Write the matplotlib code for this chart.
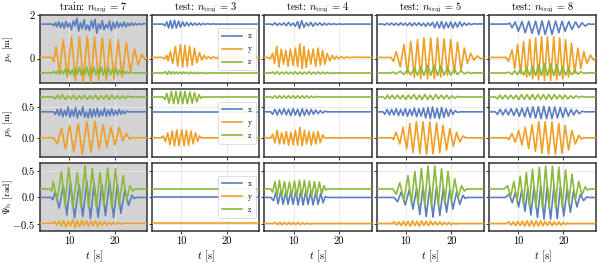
import numpy as np
import matplotlib.pyplot as plt

plt.rcParams['font.family'] = ['cmr10']
plt.rcParams['mathtext.fontset'] = 'cm'
plt.rcParams['axes.formatter.use_mathtext'] = True
plt.rcParams['axes.unicode_minus'] = True

# columns
SPLITS = ["train", "test", "test", "test", "test"]
N_TRAJ = [7, 3, 4, 5, 8]

# (t [s], value) key points, per panel and per axis
# ---- n_traj = 7 (train)
PE_X_7 = [(3.6, 1.60), (6.3, 1.60), (6.6, 1.52), (7.0, 1.66), (7.3, 1.48), (7.7, 1.70), (8.1, 1.44), (8.5, 1.66),
          (8.9, 1.40), (9.3, 1.72), (9.7, 1.46), (10.1, 1.64), (10.5, 1.34), (10.9, 1.74), (11.3, 1.52), (11.7, 1.86),
          (12.1, 1.28), (12.5, 1.66), (12.9, 1.38), (13.3, 1.80), (13.7, 1.34), (14.1, 1.56), (14.5, 1.30), (14.9, 1.76),
          (15.3, 1.42), (15.7, 1.82), (16.1, 1.18), (16.5, 1.62), (16.9, 1.38), (17.3, 1.76), (17.7, 1.34), (18.1, 1.58),
          (18.5, 1.42), (18.9, 1.74), (19.3, 1.30), (19.7, 1.68), (20.1, 1.40), (20.5, 1.72), (20.9, 1.44), (21.3, 1.64),
          (21.7, 1.48), (22.1, 1.70), (22.5, 1.46), (22.9, 1.64), (23.3, 1.52), (23.7, 1.66), (24.1, 1.54), (24.5, 1.64),
          (24.9, 1.56), (25.4, 1.62), (25.9, 1.58), (26.4, 1.62), (27.2, 1.61)]
PE_Y_7 = [(3.6, 0.06), (6.0, 0.06), (6.3, 0.0), (6.6, -0.15), (7.1, 0.57), (7.9, -0.6), (8.7, 0.88), (9.6, -0.85),
          (10.5, 1.0), (11.4, -1.0), (12.3, 1.0), (13.1, -1.08), (14.0, 1.04), (14.8, -1.08), (15.6, 1.0), (16.5, -1.0),
          (17.3, 0.96), (18.2, -1.0), (19.0, 0.9), (19.9, -0.93), (20.8, 0.88), (21.7, -0.85), (22.6, 0.76), (23.5, -0.6),
          (24.4, 0.45), (25.2, -0.3), (26.0, 0.2), (26.7, -0.05), (27.2, 0.05)]
PE_Z_7 = [(3.6, -0.65), (6.3, -0.65), (6.7, -0.58), (7.1, -0.7), (7.5, -0.56), (7.9, -0.72), (8.3, -0.55), (8.7, -0.7),
          (9.1, -0.5), (9.5, -0.74), (9.9, -0.48), (10.3, -0.72), (10.7, -0.5), (11.1, -0.78), (11.5, -0.45), (11.9, -0.7),
          (12.3, -0.4), (12.7, -0.76), (13.1, -0.5), (13.5, -0.72), (13.9, -0.38), (14.3, -0.78), (14.7, -0.46), (15.1, -0.7),
          (15.5, -0.4), (15.9, -0.75), (16.3, -0.5), (16.7, -0.72), (17.1, -0.38), (17.5, -0.76), (17.9, -0.48), (18.3, -0.72),
          (18.7, -0.42), (19.1, -0.74), (19.5, -0.5), (19.9, -0.7), (20.3, -0.45), (20.7, -0.74), (21.1, -0.52), (21.5, -0.7),
          (21.9, -0.55), (22.3, -0.7), (22.7, -0.58), (23.1, -0.68), (23.5, -0.6), (24.0, -0.66), (27.2, -0.65)]
PB_X_7 = [(3.6, 0.42), (6.6, 0.42), (7.0, 0.38), (7.4, 0.46), (7.8, 0.36), (8.2, 0.47), (8.6, 0.34), (9.0, 0.44),
          (9.4, 0.36), (9.8, 0.5), (10.2, 0.33), (10.6, 0.45), (11.0, 0.35), (11.4, 0.49), (11.8, 0.32), (12.2, 0.44),
          (12.6, 0.36), (13.0, 0.5), (13.4, 0.33), (13.8, 0.42), (14.2, 0.32), (14.6, 0.47), (15.0, 0.33), (15.4, 0.46),
          (15.8, 0.35), (16.2, 0.48), (16.6, 0.34), (17.0, 0.44), (17.4, 0.36), (17.8, 0.48), (18.2, 0.35), (18.6, 0.45),
          (19.0, 0.36), (19.4, 0.47), (19.8, 0.36), (20.2, 0.44), (20.6, 0.37), (21.0, 0.46), (21.4, 0.38), (21.8, 0.44),
          (22.2, 0.39), (22.6, 0.43), (23.0, 0.42), (27.2, 0.42)]
PB_Y_7 = [(3.6, 0.0), (6.6, 0.0), (7.4, -0.1), (8.3, 0.15), (9.2, -0.18), (10.1, 0.2), (11.0, -0.23), (12.0, 0.23),
          (12.9, -0.27), (13.9, 0.26), (14.8, -0.23), (15.7, 0.26), (16.6, -0.18), (17.5, 0.21), (18.3, -0.15), (19.2, 0.17),
          (20.1, -0.12), (21.0, 0.17), (21.8, -0.05), (22.6, 0.07), (23.3, -0.02), (24.0, 0.0), (27.2, 0.0)]
PB_Z_7 = [(3.6, 0.66), (6.5, 0.66), (7.0, 0.63), (7.5, 0.69), (8.0, 0.63), (8.6, 0.69), (9.2, 0.62), (9.8, 0.68),
          (10.4, 0.63), (11.0, 0.69), (11.6, 0.62), (12.2, 0.68), (12.8, 0.63), (13.4, 0.69), (14.0, 0.62), (14.6, 0.68),
          (15.2, 0.63), (15.8, 0.69), (16.4, 0.62), (17.0, 0.68), (17.6, 0.63), (18.2, 0.69), (18.8, 0.62), (19.4, 0.69),
          (20.0, 0.63), (20.6, 0.68), (21.2, 0.63), (21.8, 0.68), (22.4, 0.64), (23.0, 0.67), (23.6, 0.66), (27.2, 0.66)]
PSI_X_7 = [(3.6, 0.0), (6.0, 0.0), (6.4, -0.04), (6.9, 0.1), (7.8, -0.2), (8.7, 0.22), (9.5, -0.33), (10.3, 0.28),
           (11.2, -0.38), (12.2, 0.24), (13.0, -0.36), (13.9, 0.3), (14.7, -0.4), (15.5, 0.27), (16.4, -0.38), (17.2, 0.24),
           (18.0, -0.34), (18.9, 0.3), (19.8, -0.38), (20.6, 0.25), (21.4, -0.3), (22.3, 0.15), (23.1, -0.15), (23.8, 0.04),
           (24.3, -0.02), (24.8, 0.0), (27.2, 0.0)]
PSI_Y_7 = [(3.6, -0.49), (6.3, -0.49), (6.8, -0.46), (7.3, -0.52), (7.8, -0.45), (8.3, -0.53), (8.8, -0.44), (9.3, -0.55),
           (9.8, -0.45), (10.3, -0.54), (10.8, -0.42), (11.3, -0.56), (11.8, -0.44), (12.3, -0.55), (12.8, -0.43), (13.3, -0.53),
           (13.8, -0.44), (14.3, -0.54), (14.8, -0.45), (15.3, -0.53), (15.8, -0.44), (16.3, -0.54), (16.8, -0.46), (17.3, -0.52),
           (17.8, -0.46), (18.3, -0.52), (18.8, -0.47), (19.3, -0.51), (19.8, -0.47), (20.3, -0.51), (20.8, -0.48), (21.3, -0.5),
           (22.0, -0.49), (27.2, -0.49)]
PSI_Z_7 = [(3.6, 0.16), (5.8, 0.16), (6.2, 0.12), (6.5, 0.3), (7.4, -0.05), (8.3, 0.49), (9.1, -0.15), (9.9, 0.57),
           (10.8, -0.2), (11.8, 0.47), (12.6, -0.18), (13.5, 0.59), (14.3, -0.2), (15.1, 0.54), (16.0, -0.18), (16.8, 0.47),
           (17.6, -0.15), (18.5, 0.55), (19.4, -0.2), (20.2, 0.54), (21.0, -0.15), (21.9, 0.41), (22.7, -0.05), (23.4, 0.22),
           (24.0, 0.12), (24.5, 0.16), (27.2, 0.16)]

# ---- n_traj = 3
PE_X_3 = [(3.6, 1.6), (6.0, 1.6), (6.4, 1.52), (6.8, 1.7), (7.2, 1.42), (7.6, 1.76), (8.0, 1.4), (8.5, 1.78), (8.9, 1.42),
          (9.4, 1.74), (9.8, 1.46), (10.3, 1.7), (10.7, 1.5), (11.2, 1.68), (11.6, 1.52), (12.1, 1.66), (12.5, 1.54),
          (13.0, 1.65), (13.4, 1.55), (13.9, 1.64), (14.3, 1.56), (14.8, 1.63), (15.2, 1.58), (15.8, 1.62), (16.4, 1.59),
          (17.0, 1.61), (17.6, 1.6), (27.2, 1.6)]
PE_Y_3 = [(3.6, 0.06), (5.8, 0.06), (6.3, 0.0), (6.8, 0.15), (7.1, -0.1), (7.6, 0.33), (8.1, -0.22), (8.7, 0.57),
          (9.2, -0.35), (9.8, 0.65), (10.3, -0.38), (10.8, 0.61), (11.3, -0.35), (11.8, 0.57), (12.4, -0.3), (12.9, 0.49),
          (13.4, -0.19), (14.0, 0.28), (14.5, -0.06), (15.0, 0.15), (15.5, 0.0), (16.0, 0.1), (16.6, 0.01), (17.1, 0.09),
          (17.7, 0.02), (18.3, 0.08), (18.9, 0.03), (19.5, 0.07), (20.2, 0.06), (27.2, 0.06)]
PE_Z_3 = [(3.6, -0.66), (6.1, -0.66), (6.5, -0.6), (6.9, -0.72), (7.3, -0.58), (7.7, -0.71), (8.1, -0.6), (8.5, -0.7),
          (8.9, -0.61), (9.3, -0.7), (9.7, -0.62), (10.1, -0.7), (10.5, -0.61), (10.9, -0.69), (11.3, -0.62), (11.7, -0.7),
          (12.1, -0.62), (12.5, -0.69), (12.9, -0.63), (13.3, -0.69), (13.7, -0.63), (14.1, -0.68), (14.5, -0.63),
          (14.9, -0.68), (15.3, -0.64), (15.7, -0.68), (16.1, -0.64), (16.5, -0.67), (17.0, -0.64), (17.5, -0.67),
          (18.0, -0.65), (18.5, -0.67), (19.0, -0.65), (19.5, -0.67), (20.0, -0.65), (21.0, -0.66), (27.2, -0.66)]
PB_X_3 = [(3.6, 0.41), (27.2, 0.41)]
PB_Y_3 = [(3.6, 0.0), (5.6, 0.0), (6.0, 0.03), (6.5, -0.06), (7.0, 0.08), (7.5, -0.11), (8.0, 0.11), (8.5, -0.13),
          (9.0, 0.13), (9.5, -0.13), (10.1, 0.13), (10.6, -0.13), (11.1, 0.12), (11.6, -0.12), (12.1, 0.11), (12.6, -0.1),
          (13.1, 0.08), (13.6, -0.06), (14.0, 0.03), (14.4, 0.0), (27.2, 0.0)]
PB_Z_3 = [(3.6, 0.66), (6.0, 0.66), (6.4, 0.62), (6.8, 0.72), (7.3, 0.56), (7.8, 0.75), (8.3, 0.55), (8.8, 0.75),
          (9.3, 0.55), (9.8, 0.75), (10.3, 0.55), (10.8, 0.75), (11.3, 0.55), (11.9, 0.74), (12.4, 0.56), (12.9, 0.73),
          (13.4, 0.58), (13.9, 0.7), (14.3, 0.64), (14.7, 0.66), (27.2, 0.66)]
PSI_X_3 = [(3.6, 0.0), (27.2, 0.0)]
PSI_Y_3 = [(3.6, -0.49), (27.2, -0.49)]
PSI_Z_3 = [(3.6, 0.16), (27.2, 0.16)]

# ---- n_traj = 4
PE_X_4 = [(3.6, 1.6), (5.0, 1.6), (5.4, 1.56), (5.9, 1.66), (6.4, 1.54), (6.9, 1.64), (7.4, 1.55), (7.9, 1.66),
          (8.4, 1.52), (8.9, 1.68), (9.4, 1.53), (9.9, 1.65), (10.4, 1.5), (10.9, 1.72), (11.3, 1.4), (11.8, 1.76),
          (12.3, 1.45), (12.8, 1.66), (13.3, 1.52), (13.8, 1.68), (14.3, 1.5), (14.8, 1.65), (15.3, 1.55), (15.8, 1.66),
          (16.3, 1.54), (16.8, 1.64), (17.3, 1.56), (17.8, 1.63), (18.3, 1.57), (18.8, 1.62), (19.4, 1.58), (20.0, 1.61),
          (20.7, 1.59), (21.4, 1.6), (27.2, 1.6)]
PE_Y_4 = [(3.6, 0.06), (4.5, 0.06), (4.9, 0.0), (5.4, 0.25), (5.8, -0.22), (6.3, 0.57), (6.8, -0.38), (7.3, 0.44),
          (7.8, -0.25), (8.3, 0.38), (8.8, -0.35), (9.3, 0.44), (9.9, -0.3), (10.4, 0.49), (10.9, -0.36), (11.4, 0.69),
          (11.9, -0.46), (12.3, 0.57), (12.8, -0.4), (13.3, 0.41), (13.8, -0.25), (14.3, 0.44), (14.9, -0.35), (15.4, 0.49),
          (15.9, -0.3), (16.4, 0.38), (16.9, -0.25), (17.4, 0.25), (18.0, -0.1), (18.5, 0.15), (19.0, -0.02), (19.5, 0.12),
          (20.0, 0.0), (20.5, 0.1), (21.1, 0.03), (21.7, 0.08), (22.3, 0.05), (23.0, 0.07), (27.2, 0.06)]
PE_Z_4 = [(3.6, -0.66), (5.0, -0.66), (5.4, -0.61), (5.9, -0.7), (6.4, -0.6), (6.9, -0.71), (7.4, -0.62), (7.9, -0.7),
          (8.4, -0.61), (8.9, -0.7), (9.4, -0.62), (9.9, -0.7), (10.4, -0.6), (10.9, -0.71), (11.4, -0.61), (11.9, -0.7),
          (12.4, -0.62), (12.9, -0.7), (13.4, -0.6), (13.9, -0.71), (14.4, -0.62), (14.9, -0.7), (15.4, -0.61), (15.9, -0.7),
          (16.4, -0.62), (16.9, -0.69), (17.4, -0.63), (17.9, -0.69), (18.4, -0.64), (18.9, -0.68), (19.4, -0.64),
          (19.9, -0.67), (20.5, -0.65), (21.2, -0.66), (27.2, -0.66)]
PB_X_4 = [(3.6, 0.42), (5.0, 0.42), (5.4, 0.38), (5.9, 0.46), (6.4, 0.37), (6.9, 0.46), (7.4, 0.38), (7.9, 0.47),
          (8.4, 0.37), (8.9, 0.46), (9.4, 0.36), (9.9, 0.47), (10.4, 0.37), (10.9, 0.46), (11.4, 0.35), (11.9, 0.47),
          (12.4, 0.36), (12.9, 0.46), (13.4, 0.37), (13.9, 0.46), (14.4, 0.38), (14.9, 0.45), (15.4, 0.39), (15.9, 0.44),
          (16.4, 0.4), (16.9, 0.43), (17.4, 0.42), (27.2, 0.42)]
PB_Y_4 = [(3.6, 0.0), (5.0, 0.0), (5.4, 0.06), (5.9, -0.08), (6.4, 0.12), (6.9, -0.1), (7.4, 0.08), (7.9, -0.1),
          (8.4, 0.1), (8.9, -0.12), (9.4, 0.09), (9.9, -0.11), (10.4, 0.12), (10.9, -0.12), (11.4, 0.17), (11.9, -0.13),
          (12.4, 0.12), (12.9, -0.1), (13.4, 0.1), (13.9, -0.12), (14.4, 0.09), (14.9, -0.1), (15.4, 0.1), (15.9, -0.08),
          (16.4, 0.05), (16.8, 0.0), (27.2, 0.0)]
PB_Z_4 = [(3.6, 0.66), (5.0, 0.66), (5.4, 0.64), (5.9, 0.68), (6.4, 0.64), (6.9, 0.68), (7.4, 0.64), (7.9, 0.68),
          (8.4, 0.64), (8.9, 0.68), (9.4, 0.64), (9.9, 0.68), (10.4, 0.64), (10.9, 0.68), (11.4, 0.64), (11.9, 0.68),
          (12.4, 0.64), (12.9, 0.68), (13.4, 0.645), (13.9, 0.675), (14.4, 0.65), (15.0, 0.67), (15.6, 0.66), (27.2, 0.66)]
PSI_X_4 = [(3.6, 0.0), (5.0, 0.0), (5.6, -0.06), (6.1, 0.1), (6.6, -0.12), (7.2, 0.12), (7.7, -0.13), (8.3, 0.1),
           (8.8, -0.13), (9.4, 0.11), (9.9, -0.13), (10.5, 0.12), (11.0, -0.14), (11.6, 0.12), (12.1, -0.14), (12.7, 0.12),
           (13.2, -0.13), (13.8, 0.11), (14.3, -0.14), (14.9, 0.1), (15.4, -0.13), (16.0, 0.08), (16.5, -0.1), (17.0, 0.02),
           (17.4, 0.0), (27.2, 0.0)]
PSI_Y_4 = [(3.6, -0.49), (5.5, -0.49), (6.0, -0.47), (6.5, -0.51), (7.0, -0.47), (7.5, -0.51), (8.0, -0.47), (8.5, -0.51),
           (9.0, -0.47), (9.5, -0.51), (10.0, -0.47), (10.5, -0.51), (11.0, -0.47), (11.5, -0.51), (12.0, -0.475),
           (12.5, -0.505), (13.0, -0.48), (13.5, -0.5), (14.0, -0.49), (27.2, -0.49)]
PSI_Z_4 = [(3.6, 0.16), (5.0, 0.16), (5.4, 0.1), (5.9, 0.3), (6.4, 0.03), (6.9, 0.32), (7.4, 0.02), (8.0, 0.3),
           (8.5, 0.02), (9.1, 0.29), (9.6, 0.03), (10.2, 0.31), (10.7, 0.02), (11.3, 0.32), (11.8, 0.02), (12.4, 0.32),
           (12.9, 0.03), (13.5, 0.31), (14.0, 0.02), (14.6, 0.3), (15.1, 0.03), (15.7, 0.29), (16.2, 0.06), (16.7, 0.22),
           (17.1, 0.14), (17.5, 0.16), (27.2, 0.16)]

# ---- n_traj = 5
PE_X_5 = [(3.6, 1.6), (5.0, 1.6), (5.4, 1.56), (5.9, 1.64), (6.4, 1.56), (6.9, 1.65), (7.4, 1.55), (7.9, 1.64),
          (8.4, 1.54), (8.9, 1.66), (9.4, 1.55), (9.9, 1.64), (10.4, 1.53), (10.9, 1.66), (11.4, 1.52), (11.9, 1.65),
          (12.4, 1.54), (12.9, 1.66), (13.4, 1.52), (13.9, 1.64), (14.4, 1.5), (14.9, 1.66), (15.4, 1.52), (15.9, 1.68),
          (16.4, 1.44), (16.9, 1.7), (17.4, 1.42), (17.9, 1.72), (18.4, 1.4), (18.9, 1.68), (19.4, 1.44), (19.9, 1.7),
          (20.4, 1.42), (20.9, 1.68), (21.4, 1.46), (21.9, 1.7), (22.4, 1.5), (22.9, 1.66), (23.4, 1.54), (23.9, 1.64),
          (24.4, 1.57), (25.0, 1.62), (25.6, 1.6), (27.2, 1.61)]
PE_Y_5 = [(3.6, 0.06), (6.8, 0.06), (7.3, -0.12), (7.9, 0.33), (8.8, -0.38), (9.6, 0.65), (10.4, -0.69), (11.1, 0.8),
          (11.9, -0.85), (12.6, 0.88), (13.3, -0.93), (14.0, 0.96), (14.8, -0.93), (15.5, 0.96), (16.3, -0.93), (17.0, 0.96),
          (17.7, -0.85), (18.45, 0.91), (19.2, -0.77), (19.9, 0.88), (20.7, -0.69), (21.4, 0.76), (22.2, -0.54), (22.9, 0.49),
          (23.6, -0.22), (24.3, 0.25), (25.0, -0.06), (25.8, 0.13), (26.5, 0.0), (27.2, 0.04)]
PE_Z_5 = [(3.6, -0.66), (6.5, -0.66), (7.3, -0.62), (7.9, -0.7), (8.8, -0.58), (9.6, -0.72), (10.4, -0.52), (11.1, -0.74),
          (11.9, -0.45), (12.6, -0.76), (13.3, -0.36), (14.0, -0.77), (14.8, -0.3), (15.5, -0.77), (16.3, -0.3), (17.0, -0.77),
          (17.7, -0.34), (18.45, -0.76), (19.2, -0.4), (19.9, -0.75), (20.7, -0.48), (21.4, -0.73), (22.2, -0.56),
          (22.9, -0.7), (23.6, -0.62), (24.3, -0.68), (25.0, -0.65), (27.2, -0.66)]
PB_X_5 = [(3.6, 0.42), (5.0, 0.42), (5.4, 0.38), (5.9, 0.46), (6.4, 0.37), (6.9, 0.46), (7.4, 0.37), (7.9, 0.47),
          (8.4, 0.36), (8.9, 0.46), (9.4, 0.36), (9.9, 0.47), (10.4, 0.35), (10.9, 0.46), (11.4, 0.36), (11.9, 0.48),
          (12.4, 0.34), (12.9, 0.47), (13.4, 0.35), (13.9, 0.48), (14.4, 0.32), (14.9, 0.49), (15.4, 0.31), (15.9, 0.5),
          (16.4, 0.32), (16.9, 0.48), (17.4, 0.31), (17.9, 0.49), (18.4, 0.33), (18.9, 0.47), (19.4, 0.35), (19.9, 0.46),
          (20.4, 0.38), (20.9, 0.44), (21.4, 0.41), (22.0, 0.42), (27.2, 0.42)]
PB_Y_5 = [(3.6, 0.0), (7.0, 0.0), (7.3, -0.03), (7.9, 0.09), (8.7, -0.1), (9.4, 0.17), (10.2, -0.18), (10.9, 0.23),
          (11.6, -0.24), (12.35, 0.26), (13.1, -0.26), (13.8, 0.26), (14.6, -0.27), (15.3, 0.26), (16.0, -0.26),
          (16.8, 0.24), (17.5, -0.24), (18.2, 0.2), (19.0, -0.2), (19.7, 0.15), (20.5, -0.14), (21.2, 0.09), (21.9, -0.07),
          (22.6, 0.03), (23.2, 0.0), (27.2, 0.0)]
PB_Z_5 = [(3.6, 0.66), (5.0, 0.66), (5.5, 0.63), (6.0, 0.69), (6.5, 0.63), (7.0, 0.69), (7.6, 0.63), (8.2, 0.69),
          (8.8, 0.63), (9.4, 0.69), (10.0, 0.62), (10.6, 0.69), (11.2, 0.63), (11.8, 0.7), (12.4, 0.62), (13.0, 0.69),
          (13.6, 0.62), (14.2, 0.7), (14.8, 0.62), (15.4, 0.69), (16.0, 0.62), (16.6, 0.7), (17.2, 0.63), (17.8, 0.69),
          (18.4, 0.63), (19.0, 0.69), (19.6, 0.63), (20.2, 0.68), (20.8, 0.64), (21.4, 0.67), (22.0, 0.66), (27.2, 0.66)]
PSI_X_5 = [(3.6, 0.0), (7.4, 0.0), (8.2, -0.08), (9.0, 0.1), (9.9, -0.14), (10.8, 0.15), (11.6, -0.22), (12.4, 0.17),
           (13.1, -0.32), (13.8, 0.2), (14.5, -0.36), (15.3, 0.2), (16.0, -0.37), (16.8, 0.2), (17.5, -0.34), (18.3, 0.18),
           (19.0, -0.28), (19.7, 0.15), (20.4, -0.22), (21.2, 0.1), (21.9, -0.13), (22.6, 0.04), (23.1, -0.02), (23.5, 0.0),
           (27.2, 0.0)]
PSI_Y_5 = [(3.6, -0.49), (7.0, -0.49), (7.5, -0.46), (8.0, -0.52), (8.5, -0.46), (9.0, -0.53), (9.5, -0.45), (10.0, -0.53),
           (10.5, -0.45), (11.0, -0.54), (11.5, -0.44), (12.0, -0.53), (12.5, -0.45), (13.0, -0.54), (13.5, -0.44),
           (14.0, -0.53), (14.5, -0.45), (15.0, -0.53), (15.5, -0.45), (16.0, -0.52), (16.5, -0.46), (17.0, -0.52),
           (17.5, -0.46), (18.0, -0.52), (18.5, -0.47), (19.0, -0.51), (19.5, -0.47), (20.0, -0.51), (20.5, -0.48),
           (21.0, -0.5), (21.5, -0.49), (27.2, -0.49)]
PSI_Z_5 = [(3.6, 0.16), (7.2, 0.16), (7.9, 0.06), (8.7, 0.28), (9.6, -0.05), (10.5, 0.41), (11.25, -0.1), (12.0, 0.49),
           (12.7, -0.13), (13.45, 0.55), (14.2, -0.15), (14.9, 0.59), (15.65, -0.16), (16.4, 0.59), (17.15, -0.15),
           (17.9, 0.54), (18.6, -0.13), (19.3, 0.49), (20.05, -0.08), (20.8, 0.35), (21.55, 0.0), (22.3, 0.22), (22.9, 0.12),
           (23.4, 0.16), (27.2, 0.16)]

# ---- n_traj = 8
PE_X_8 = [(3.6, 1.6), (7.8, 1.6), (8.2, 1.65), (8.7, 1.43), (9.4, 1.7), (10.1, 1.27), (10.9, 1.72), (11.6, 1.2),
          (12.4, 1.73), (13.1, 1.17), (13.9, 1.74), (14.6, 1.12), (15.3, 1.75), (16.0, 1.12), (16.8, 1.75), (17.5, 1.12),
          (18.3, 1.74), (19.0, 1.2), (19.7, 1.73), (20.4, 1.27), (21.2, 1.72), (21.9, 1.35), (22.7, 1.7), (23.4, 1.43),
          (24.1, 1.66), (24.85, 1.5), (25.5, 1.62), (26.0, 1.59), (27.2, 1.6)]
PE_Y_8 = [(3.6, 0.06), (7.4, 0.06), (7.9, -0.12), (8.7, 0.41), (9.3, -0.46), (9.9, 0.65), (10.6, -0.69), (11.25, 0.8),
          (11.9, -0.85), (12.6, 0.88), (13.25, -0.93), (13.9, 0.96), (14.55, -0.98), (15.2, 1.01), (15.85, -1.0),
          (16.5, 1.01), (17.2, -1.0), (17.9, 1.01), (18.55, -0.98), (19.2, 0.96), (19.85, -0.93), (20.5, 0.88),
          (21.15, -0.85), (21.8, 0.72), (22.5, -0.69), (23.2, 0.49), (23.85, -0.46), (24.5, 0.33), (25.2, -0.22),
          (26.0, 0.17), (26.6, -0.06), (27.2, 0.05)]
PE_Z_8 = [(3.6, -0.66), (7.4, -0.66), (8.0, -0.62), (8.7, -0.72), (9.3, -0.56), (9.9, -0.73), (10.6, -0.5), (11.25, -0.75),
          (11.9, -0.42), (12.6, -0.77), (13.25, -0.35), (13.9, -0.78), (14.55, -0.26), (15.2, -0.78), (15.85, -0.22),
          (16.5, -0.78), (17.2, -0.24), (17.9, -0.78), (18.55, -0.28), (19.2, -0.77), (19.85, -0.35), (20.5, -0.76),
          (21.15, -0.45), (21.8, -0.74), (22.5, -0.55), (23.2, -0.71), (23.85, -0.6), (24.5, -0.68), (25.2, -0.65),
          (27.2, -0.66)]
PB_X_8 = [(3.6, 0.42), (5.0, 0.42), (5.5, 0.38), (6.1, 0.46), (6.7, 0.37), (7.3, 0.46), (7.9, 0.37), (8.5, 0.47),
          (9.1, 0.36), (9.7, 0.47), (10.3, 0.35), (10.9, 0.48), (11.5, 0.34), (12.1, 0.49), (12.7, 0.33), (13.3, 0.5),
          (13.9, 0.32), (14.5, 0.5), (15.1, 0.31), (15.7, 0.51), (16.3, 0.31), (16.9, 0.5), (17.5, 0.31), (18.1, 0.5),
          (18.7, 0.32), (19.3, 0.49), (19.9, 0.33), (20.5, 0.48), (21.1, 0.35), (21.7, 0.46), (22.3, 0.37), (22.9, 0.45),
          (23.5, 0.39), (24.1, 0.43), (24.7, 0.42), (27.2, 0.42)]
PB_Y_8 = [(3.6, 0.0), (7.6, 0.0), (8.0, -0.03), (8.7, 0.07), (9.4, -0.07), (10.15, 0.12), (10.9, -0.12), (11.6, 0.17),
          (12.35, -0.17), (13.1, 0.21), (13.85, -0.22), (14.6, 0.26), (15.3, -0.25), (16.0, 0.26), (16.75, -0.27),
          (17.5, 0.26), (18.25, -0.27), (19.0, 0.23), (19.7, -0.25), (20.4, 0.2), (21.15, -0.2), (21.9, 0.12),
          (22.65, -0.1), (23.4, 0.04), (24.0, -0.02), (24.5, 0.0), (27.2, 0.0)]
PB_Z_8 = [(3.6, 0.66), (5.0, 0.66), (5.5, 0.63), (6.0, 0.69), (6.6, 0.63), (7.2, 0.69), (7.8, 0.63), (8.4, 0.69),
          (9.0, 0.63), (9.6, 0.69), (10.2, 0.62), (10.8, 0.7), (11.4, 0.62), (12.0, 0.7), (12.6, 0.62), (13.2, 0.7),
          (13.8, 0.62), (14.4, 0.7), (15.0, 0.62), (15.6, 0.7), (16.2, 0.62), (16.8, 0.7), (17.4, 0.62), (18.0, 0.7),
          (18.6, 0.63), (19.2, 0.69), (19.8, 0.63), (20.4, 0.69), (21.0, 0.63), (21.6, 0.68), (22.2, 0.64), (22.8, 0.68),
          (23.4, 0.65), (24.0, 0.67), (24.8, 0.66), (27.2, 0.66)]
PSI_X_8 = [(3.6, 0.0), (7.2, 0.0), (8.05, 0.06), (8.75, -0.1), (9.45, 0.1), (10.15, -0.18), (10.85, 0.14), (11.55, -0.26),
           (12.2, 0.18), (12.85, -0.33), (13.55, 0.2), (14.3, -0.38), (15.05, 0.22), (15.75, -0.41), (16.45, 0.22),
           (17.2, -0.41), (17.95, 0.22), (18.65, -0.4), (19.35, 0.2), (20.1, -0.35), (20.85, 0.17), (21.55, -0.28),
           (22.25, 0.12), (23.0, -0.18), (23.75, 0.06), (24.45, -0.06), (25.15, 0.01), (25.6, 0.0), (27.2, 0.0)]
PSI_Y_8 = [(3.6, -0.49), (7.5, -0.49), (8.0, -0.46), (8.5, -0.52), (9.0, -0.46), (9.5, -0.53), (10.0, -0.45), (10.5, -0.53),
           (11.0, -0.45), (11.5, -0.54), (12.0, -0.44), (12.5, -0.54), (13.0, -0.44), (13.5, -0.54), (14.0, -0.44),
           (14.5, -0.54), (15.0, -0.44), (15.5, -0.53), (16.0, -0.45), (16.5, -0.53), (17.0, -0.45), (17.5, -0.53),
           (18.0, -0.46), (18.5, -0.52), (19.0, -0.46), (19.5, -0.52), (20.0, -0.47), (20.5, -0.51), (21.0, -0.48),
           (21.5, -0.5), (22.0, -0.49), (27.2, -0.49)]
PSI_Z_8 = [(3.6, 0.16), (7.0, 0.16), (7.7, 0.22), (8.4, 0.02), (9.1, 0.3), (9.8, -0.06), (10.5, 0.4), (11.2, -0.12),
           (11.85, 0.47), (12.5, -0.16), (13.2, 0.53), (13.95, -0.19), (14.7, 0.57), (15.4, -0.2), (16.1, 0.59),
           (16.85, -0.2), (17.6, 0.59), (18.3, -0.2), (19.0, 0.57), (19.75, -0.18), (20.5, 0.52), (21.2, -0.12),
           (21.9, 0.44), (22.65, -0.05), (23.4, 0.3), (24.1, 0.05), (24.8, 0.2), (25.3, 0.14), (25.8, 0.16), (27.2, 0.16)]

ROWS = [
    [(PE_X_7, PE_Y_7, PE_Z_7), (PE_X_3, PE_Y_3, PE_Z_3), (PE_X_4, PE_Y_4, PE_Z_4), (PE_X_5, PE_Y_5, PE_Z_5), (PE_X_8, PE_Y_8, PE_Z_8)],
    [(PB_X_7, PB_Y_7, PB_Z_7), (PB_X_3, PB_Y_3, PB_Z_3), (PB_X_4, PB_Y_4, PB_Z_4), (PB_X_5, PB_Y_5, PB_Z_5), (PB_X_8, PB_Y_8, PB_Z_8)],
    [(PSI_X_7, PSI_Y_7, PSI_Z_7), (PSI_X_3, PSI_Y_3, PSI_Z_3), (PSI_X_4, PSI_Y_4, PSI_Z_4), (PSI_X_5, PSI_Y_5, PSI_Z_5), (PSI_X_8, PSI_Y_8, PSI_Z_8)],
]
YLABELS = [r'$p_{\mathrm{e}}$ [m]', r'$p_{\mathrm{b}}$ [m]', r'$\Psi_{\mathrm{b}}$ [rad]']
YLIMS = [(-1.12, 2.02), (-0.31, 0.79), (-0.63, 0.65)]
YTICKS = [[0, 2], [0.0, 0.5], [-0.5, 0.0, 0.5]]
YTICKLABELS = [['0', '2'], ['0.0', '0.5'], [r'$-0.5$', '0.0', '0.5']]
AXES_NAMES = ['x', 'y', 'z']
COLORS = ['#5a7ec0', '#eea024', '#8cb83c']

fig, axs = plt.subplots(3, 5, figsize=(5.98, 2.63), dpi=100, sharex=True, sharey='row')
fig.subplots_adjust(left=0.067, right=0.9967, top=0.943, bottom=0.122, wspace=0.047, hspace=0.088)

for r in range(3):
    for c in range(5):
        ax = axs[r, c]
        if c == 0:
            ax.set_facecolor('#d3d3d3')
        ax.grid(True, color='#e8e8e8', lw=0.6, zorder=0)
        for k in range(3):
            tt, vv = zip(*ROWS[r][c][k])
            ax.plot(tt, vv, color=COLORS[k], lw=1.2, label=AXES_NAMES[k], zorder=3)
        ax.set_xlim(3.6, 27.2)
        ax.set_ylim(*YLIMS[r])
        ax.set_yticks(YTICKS[r])
        ax.set_xticks([10, 20])
        for s in ax.spines.values():
            s.set_color('#333333')
            s.set_linewidth(1.1)
        ax.tick_params(direction='out', length=2.5, width=0.7, color='#333333', labelsize=7.5, pad=1.5)
        if c == 0:
            ax.set_yticklabels(YTICKLABELS[r])
            ax.set_ylabel(YLABELS[r], fontsize=7)
            ax.yaxis.set_label_coords(-0.235, 0.5)
        if r == 0:
            ax.set_title(SPLITS[c] + r': $n_{\mathrm{traj}}$ = ' + str(N_TRAJ[c]), fontsize=7.5, pad=3)
        if r == 2:
            ax.set_xticklabels(['10', '20'])
            ax.set_xlabel(r'$t$ [s]', fontsize=7.5, labelpad=2)
        if c == 1:
            leg = ax.legend(loc='center right', fontsize=5.5, handlelength=2.6, labelspacing=0.6,
                            borderpad=0.5, handletextpad=0.8, framealpha=0.9, fancybox=True)
            leg.get_frame().set_edgecolor('#cccccc')
            leg.get_frame().set_linewidth(0.5)

plt.savefig('out.png', dpi=100)
plt.close()
